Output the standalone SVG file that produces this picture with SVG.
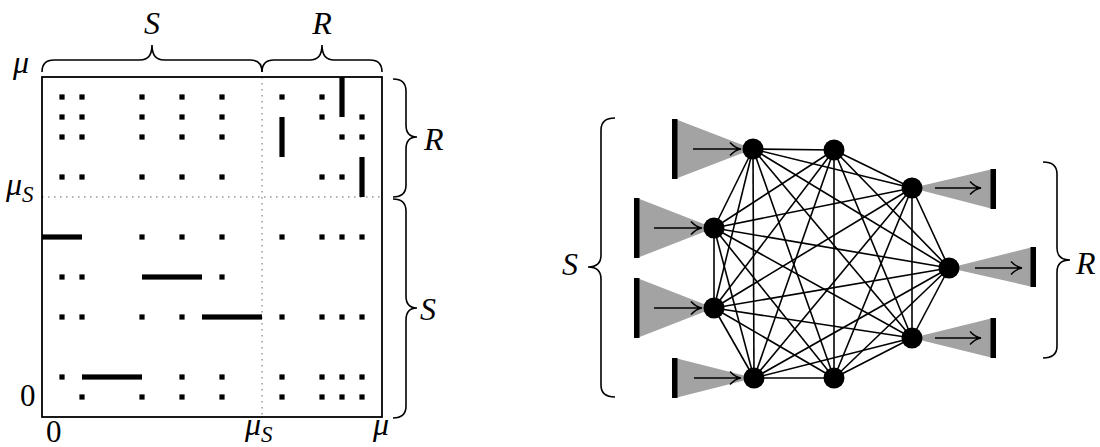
<svg xmlns="http://www.w3.org/2000/svg" width="1100" height="447" viewBox="0 0 1100 447">
<style>
.lbl{font-family:"Liberation Serif","DejaVu Serif","Times New Roman",serif;font-style:italic;font-size:32px;fill:#000}
.num{font-family:"Liberation Serif","DejaVu Serif","Times New Roman",serif;font-size:31px;fill:#000}
.sub{font-size:23px}
.brace{fill:none;stroke:#000;stroke-width:1.6}
.frame{fill:none;stroke:#000;stroke-width:1.8}
.dotted{stroke:#999;stroke-width:1.5;stroke-dasharray:1.5 4.5}
.e{stroke:#000;stroke-width:1.6}
.tri{fill:#a3a3a3;stroke:none}
.bar{fill:#000}
.arr{fill:none;stroke:#000;stroke-width:1.5}
.node{fill:#000}
</style>
<defs>
<rect id="d" x="-2.6" y="-2.6" width="5.2" height="5.2" fill="#000"/>
</defs>

<g id="matrix">
<line class="dotted" x1="262" y1="77" x2="262" y2="417"/>
<line class="dotted" x1="42" y1="197" x2="382" y2="197"/>
<rect class="frame" x="42" y="77" width="340" height="340"/>
<use href="#d" x="62" y="97"/><use href="#d" x="82" y="97"/><use href="#d" x="142" y="97"/><use href="#d" x="182" y="97"/><use href="#d" x="222" y="97"/><use href="#d" x="282" y="97"/><use href="#d" x="322" y="97"/>
<use href="#d" x="62" y="117"/><use href="#d" x="82" y="117"/><use href="#d" x="142" y="117"/><use href="#d" x="182" y="117"/><use href="#d" x="222" y="117"/><use href="#d" x="322" y="117"/><use href="#d" x="362" y="117"/>
<use href="#d" x="62" y="137"/><use href="#d" x="82" y="137"/><use href="#d" x="142" y="137"/><use href="#d" x="182" y="137"/><use href="#d" x="222" y="137"/><use href="#d" x="342" y="137"/><use href="#d" x="362" y="137"/>
<use href="#d" x="62" y="177"/><use href="#d" x="82" y="177"/><use href="#d" x="142" y="177"/><use href="#d" x="182" y="177"/><use href="#d" x="222" y="177"/><use href="#d" x="322" y="177"/><use href="#d" x="342" y="177"/>
<use href="#d" x="142" y="237"/><use href="#d" x="182" y="237"/><use href="#d" x="222" y="237"/><use href="#d" x="282" y="237"/><use href="#d" x="322" y="237"/><use href="#d" x="342" y="237"/><use href="#d" x="362" y="237"/>
<use href="#d" x="62" y="277"/><use href="#d" x="82" y="277"/><use href="#d" x="222" y="277"/>
<use href="#d" x="62" y="317"/><use href="#d" x="82" y="317"/><use href="#d" x="142" y="317"/><use href="#d" x="182" y="317"/><use href="#d" x="282" y="317"/><use href="#d" x="322" y="317"/><use href="#d" x="342" y="317"/><use href="#d" x="362" y="317"/>
<use href="#d" x="62" y="377"/><use href="#d" x="182" y="377"/><use href="#d" x="222" y="377"/><use href="#d" x="282" y="377"/><use href="#d" x="322" y="377"/><use href="#d" x="342" y="377"/><use href="#d" x="362" y="377"/>
<use href="#d" x="82" y="397"/><use href="#d" x="142" y="397"/><use href="#d" x="182" y="397"/><use href="#d" x="222" y="397"/><use href="#d" x="282" y="397"/><use href="#d" x="322" y="397"/><use href="#d" x="342" y="397"/><use href="#d" x="362" y="397"/>
<rect class="bar" x="339.4" y="77" width="5.2" height="40"/>
<rect class="bar" x="279.4" y="117" width="5.2" height="40"/>
<rect class="bar" x="359.4" y="157" width="5.2" height="40"/>
<rect class="bar" x="42" y="234.4" width="40" height="5.2"/>
<rect class="bar" x="142" y="274.4" width="60" height="5.2"/>
<rect class="bar" x="202" y="314.4" width="60" height="5.2"/>
<rect class="bar" x="82" y="374.4" width="60" height="5.2"/>
</g>

<g id="matrix-labels">
<text class="lbl" x="13" y="73">μ</text>
<text class="lbl" x="6" y="195">μ<tspan class="sub" dy="7">S</tspan></text>
<text class="num" x="20" y="406">0</text>
<text class="num" x="46" y="442">0</text>
<text class="lbl" x="245" y="435">μ<tspan class="sub" dy="7">S</tspan></text>
<text class="lbl" x="373" y="435">μ</text>
<text class="lbl" x="152" y="34" text-anchor="middle">S</text>
<text class="lbl" x="322" y="34" text-anchor="middle">R</text>
<text class="lbl" x="424" y="150">R</text>
<text class="lbl" x="420" y="320">S</text>
</g>

<g id="matrix-braces">
<path class="brace" d="M42,72 Q42,60 54,60 L140,60 Q152,60 152,45 Q152,60 164,60 L250,60 Q262,60 262,72"/>
<path class="brace" d="M262,72 Q262,60 274,60 L310,60 Q322,60 322,45 Q322,60 334,60 L370,60 Q382,60 382,72"/>
<path class="brace" d="M393,79 Q406,79 406,91 L406,125 Q406,137 417,137 Q406,137 406,149 L406,185 Q406,197 393,197"/>
<path class="brace" d="M393,199 Q406,199 406,211 L406,296 Q406,308 417,308 Q406,308 406,320 L406,406 Q406,418 393,418"/>
</g>

<g id="connectors">
<line class="e" x1="753" y1="149" x2="834" y2="150"/>
<line class="e" x1="753" y1="149" x2="912" y2="188"/>
<line class="e" x1="753" y1="149" x2="949" y2="268"/>
<line class="e" x1="753" y1="149" x2="912" y2="338"/>
<line class="e" x1="753" y1="149" x2="834" y2="378"/>
<line class="e" x1="753" y1="149" x2="754" y2="378"/>
<line class="e" x1="753" y1="149" x2="714" y2="308"/>
<line class="e" x1="753" y1="149" x2="714" y2="228"/>
<line class="e" x1="834" y1="150" x2="912" y2="188"/>
<line class="e" x1="834" y1="150" x2="949" y2="268"/>
<line class="e" x1="834" y1="150" x2="912" y2="338"/>
<line class="e" x1="834" y1="150" x2="834" y2="378"/>
<line class="e" x1="834" y1="150" x2="754" y2="378"/>
<line class="e" x1="834" y1="150" x2="714" y2="308"/>
<line class="e" x1="834" y1="150" x2="714" y2="228"/>
<line class="e" x1="912" y1="188" x2="949" y2="268"/>
<line class="e" x1="912" y1="188" x2="912" y2="338"/>
<line class="e" x1="912" y1="188" x2="834" y2="378"/>
<line class="e" x1="912" y1="188" x2="754" y2="378"/>
<line class="e" x1="912" y1="188" x2="714" y2="308"/>
<line class="e" x1="912" y1="188" x2="714" y2="228"/>
<line class="e" x1="949" y1="268" x2="912" y2="338"/>
<line class="e" x1="949" y1="268" x2="834" y2="378"/>
<line class="e" x1="949" y1="268" x2="754" y2="378"/>
<line class="e" x1="949" y1="268" x2="714" y2="308"/>
<line class="e" x1="949" y1="268" x2="714" y2="228"/>
<line class="e" x1="912" y1="338" x2="834" y2="378"/>
<line class="e" x1="912" y1="338" x2="754" y2="378"/>
<line class="e" x1="912" y1="338" x2="714" y2="308"/>
<line class="e" x1="912" y1="338" x2="714" y2="228"/>
<line class="e" x1="834" y1="378" x2="754" y2="378"/>
<line class="e" x1="834" y1="378" x2="714" y2="308"/>
<line class="e" x1="834" y1="378" x2="714" y2="228"/>
<line class="e" x1="754" y1="378" x2="714" y2="308"/>
<line class="e" x1="754" y1="378" x2="714" y2="228"/>
<line class="e" x1="714" y1="308" x2="714" y2="228"/>
</g>

<g id="source-S1">
<polygon class="tri" points="675,119 675,179 753,149"/>
<rect class="bar" x="672" y="119" width="5.5" height="60"/>
<path class="arr" d="M693,149 L741,149 M730,142.5 Q735,148 741,149 Q735,150 730,155.5"/>
</g>
<g id="source-S2">
<polygon class="tri" points="637,198 637,258 714,228"/>
<rect class="bar" x="634" y="198" width="5.5" height="60"/>
<path class="arr" d="M654,228 L702,228 M691,221.5 Q696,227 702,228 Q696,229 691,234.5"/>
</g>
<g id="source-S3">
<polygon class="tri" points="637,278 637,338 714,308"/>
<rect class="bar" x="634" y="278" width="5.5" height="60"/>
<path class="arr" d="M654,308 L702,308 M691,301.5 Q696,307 702,308 Q696,309 691,314.5"/>
</g>
<g id="source-S4">
<polygon class="tri" points="675,358 675,398 754,378"/>
<rect class="bar" x="672" y="358" width="5.5" height="40"/>
<path class="arr" d="M694,378 L741,378 M730,371.5 Q735,377 741,378 Q735,379 730,384.5"/>
</g>
<g id="sink-R1">
<polygon class="tri" points="993,169 993,209 912,188"/>
<rect class="bar" x="990.5" y="169" width="5.5" height="40"/>
<path class="arr" d="M935,188 L981,188 M970,181.5 Q975,187 981,188 Q975,189 970,194.5"/>
</g>
<g id="sink-R2">
<polygon class="tri" points="1033,247 1033,287 949,268"/>
<rect class="bar" x="1030.5" y="247" width="5.5" height="40"/>
<path class="arr" d="M975,268 L1022,268 M1011,261.5 Q1016,267 1022,268 Q1016,269 1011,274.5"/>
</g>
<g id="sink-R3">
<polygon class="tri" points="993,318 993,358 912,338"/>
<rect class="bar" x="990.5" y="318" width="5.5" height="40"/>
<path class="arr" d="M935,338 L981,338 M970,331.5 Q975,337 981,338 Q975,339 970,344.5"/>
</g>

<g id="n1"><circle class="node" cx="753" cy="149" r="10.5"/></g>
<g id="n2"><circle class="node" cx="834" cy="150" r="10.5"/></g>
<g id="n3"><circle class="node" cx="912" cy="188" r="10.5"/></g>
<g id="n4"><circle class="node" cx="949" cy="268" r="10.5"/></g>
<g id="n5"><circle class="node" cx="912" cy="338" r="10.5"/></g>
<g id="n6"><circle class="node" cx="834" cy="378" r="10.5"/></g>
<g id="n7"><circle class="node" cx="754" cy="378" r="10.5"/></g>
<g id="n8"><circle class="node" cx="714" cy="308" r="10.5"/></g>
<g id="n9"><circle class="node" cx="714" cy="228" r="10.5"/></g>

<g id="graph-braces">
<path class="brace" d="M615,118 Q601,118 601,130 L601,255 Q601,267 588,267 Q601,267 601,279 L601,385 Q601,397 615,397"/>
<path class="brace" d="M1043,162 Q1057,162 1057,174 L1057,248 Q1057,260 1070,260 Q1057,260 1057,272 L1057,346 Q1057,358 1043,358"/>
<text class="lbl" x="562" y="275">S</text>
<text class="lbl" x="1076" y="274">R</text>
</g>
</svg>
